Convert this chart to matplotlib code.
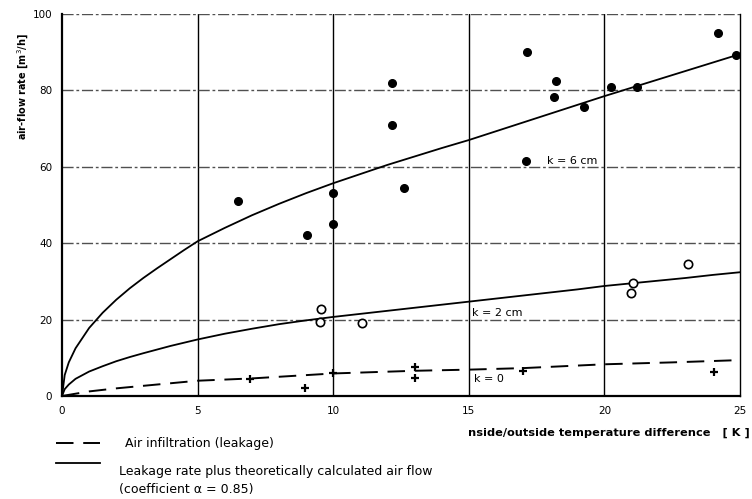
import matplotlib
matplotlib.use("Agg")
import matplotlib.pyplot as plt
from matplotlib.lines import Line2D

# measured points
filled_x = [6.5, 9.05, 10.0, 10.0, 12.15, 12.15, 12.6, 17.15, 17.1, 18.2,
            18.15, 19.25, 20.25, 21.2, 24.2, 24.85]
filled_y = [51.0, 42.1, 53.1, 45.0, 81.9, 70.9, 54.4, 90.0, 61.5, 82.5,
            78.4, 75.6, 81.0, 81.0, 95.1, 89.3]

open_x = [9.55, 9.5, 11.05, 21.05, 20.98, 23.1]
open_y = [22.7, 19.3, 19.0, 29.7, 26.9, 34.6]

cross_x = [6.95, 8.95, 10.0, 13.0, 13.0, 17.0, 24.05]
cross_y = [4.4, 2.0, 6.1, 7.5, 4.6, 6.6, 6.4]

# curves
k6_x = [0, 0.1, 0.25, 0.5, 1, 1.5, 2, 2.5, 3, 3.5, 4, 4.5, 5, 6, 7, 8, 9, 10,
        11, 12, 13, 14, 15, 16, 17, 18, 19, 20, 21, 22, 23, 24, 25]
k6_y = [0, 5.5, 8.8, 12.5, 17.8, 21.8, 25.2, 28.2, 30.9, 33.4, 35.8, 38.2, 40.5,
        44.0, 47.3, 50.3, 53.1, 55.7, 58.1, 60.5, 62.7, 64.9, 67.0, 69.3, 71.6,
        73.9, 76.2, 78.5, 80.7, 82.9, 85.1, 87.3, 89.5]

k2_x = [0, 0.1, 0.25, 0.5, 1, 1.5, 2, 2.5, 3, 4, 5, 6, 7, 8, 9, 10, 11, 12, 13,
        14, 15, 16, 17, 18, 19, 20, 21, 22, 23, 24, 25]
k2_y = [0, 1.8, 3.0, 4.5, 6.4, 7.8, 9.1, 10.2, 11.2, 13.1, 14.8, 16.3, 17.6,
        18.8, 19.8, 20.7, 21.5, 22.3, 23.1, 23.9, 24.7, 25.5, 26.3, 27.1, 27.9,
        28.8, 29.5, 30.2, 30.9, 31.7, 32.4]

k0_x = [0, 1, 2, 3.5, 5, 7, 10, 13, 15, 17, 20, 22.5, 25]
k0_y = [0, 1.2, 2.0, 3.0, 4.0, 4.6, 5.9, 6.6, 6.9, 7.3, 8.3, 8.8, 9.4]

x_ticks = [0, 5, 10, 15, 20, 25]
y_ticks = [0, 20, 40, 60, 80, 100]

W, H = 752, 499
fig = plt.figure(figsize=(W / 100, H / 100), dpi=100)
ax = fig.add_axes([62 / W, 1 - 396 / H, (740 - 62) / W, (396 - 14) / H])

ax.set_xlim(0, 25)
ax.set_ylim(0, 100)

# grid
for xv in x_ticks[1:-1]:
    ax.axvline(xv, color="black", lw=1.0, zorder=1)
for yv in y_ticks[1:]:
    ax.axhline(yv, color="#505050", lw=1.0, ls=(0, (8, 2, 2, 2)), zorder=1)

for s in ["left", "bottom"]:
    ax.spines[s].set_linewidth(1.6)
ax.spines["right"].set_linewidth(1.0)
ax.spines["top"].set_visible(False)

ax.plot(k6_x, k6_y, color="black", lw=1.3, zorder=3)
ax.plot(k2_x, k2_y, color="black", lw=1.3, zorder=3)
dash, = ax.plot(k0_x, k0_y, color="black", lw=1.4, zorder=3)
dash.set_dashes([9, 5])

ax.plot(filled_x, filled_y, "o", color="black", ms=5.5, zorder=4, clip_on=False)
ax.plot(open_x, open_y, "o", mfc="white", mec="black", mew=1.2, ms=6, zorder=4)
ax.plot(cross_x, cross_y, "+", color="black", mew=1.6, ms=6, zorder=4)

ax.text(17.9, 61.5, "k = 6 cm", fontsize=8, va="center")
ax.text(15.1, 21.7, "k = 2 cm", fontsize=8, va="center")
ax.text(15.2, 4.5, "k = 0", fontsize=8, va="center")

ax.set_xticks(x_ticks)
ax.set_yticks(y_ticks)
ax.tick_params(length=0, labelsize=7.5, pad=7)

ax.set_ylabel("air-flow rate [m$^3$/h]", fontsize=7, fontweight="bold")
ax.yaxis.set_label_coords(-0.045, 0.81)

fig.text(750 / W, 1 - 433 / H, "nside/outside temperature difference   [ K ]",
         fontsize=8.2, fontweight="bold", ha="right", va="center")

# legend
fig.add_artist(Line2D([56 / W, 100 / W], [1 - 443 / H] * 2, color="black",
                      lw=1.4, dashes=[9, 5]))
fig.add_artist(Line2D([56 / W, 100 / W], [1 - 463 / H] * 2, color="black", lw=1.3))
fig.text(125 / W, 1 - 443 / H, "Air infiltration (leakage)", fontsize=9, va="center")
fig.text(119 / W, 1 - 472 / H, "Leakage rate plus theoretically calculated air flow",
         fontsize=9, va="center")
fig.text(119 / W, 1 - 489 / H, "(coefficient \u03b1 = 0.85)", fontsize=9, va="center")

fig.savefig("out.png", dpi=100)
